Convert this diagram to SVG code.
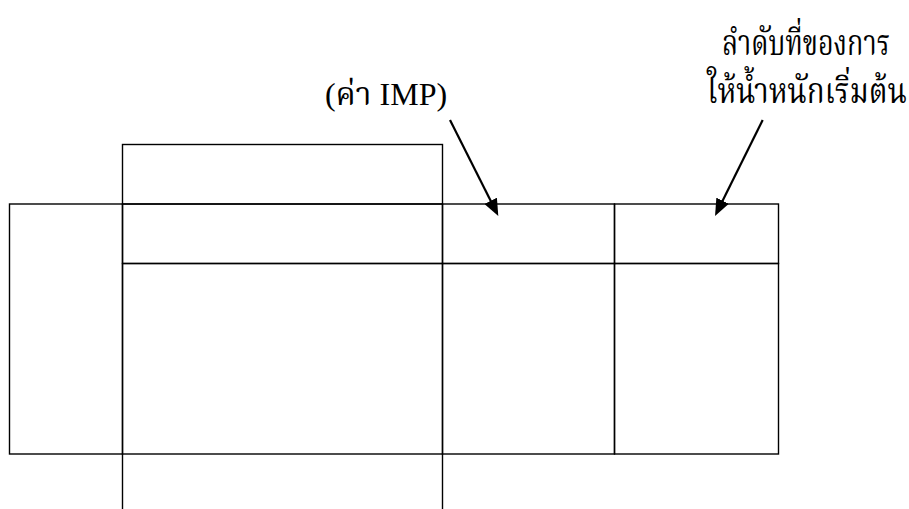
<svg xmlns="http://www.w3.org/2000/svg" width="909" height="509" viewBox="0 0 909 509">
  <style>
    .cell { fill: none; stroke: #000; stroke-width: 1.4; }
    .arrow { stroke: #000; stroke-width: 2.2; fill: none; }
    .label { font-family: "Liberation Serif", "Noto Serif Thai", "Noto Sans Thai", "DejaVu Serif", serif; font-size: 32px; fill: #000; text-anchor: middle; }
    .thai { font-size: 35px; }
  </style>
  <defs>
    <marker id="head" markerUnits="userSpaceOnUse" viewBox="0 0 17 14" markerWidth="17" markerHeight="14" refX="7" refY="7" orient="auto">
      <path d="M0,0 L17,7 L0,14 z" fill="#000"/>
    </marker>
  </defs>

  <!-- table cells -->
  <g id="cell-top"><rect class="cell" x="122.5" y="144.5" width="320" height="59.5"/></g>
  <g id="cell-left"><rect class="cell" x="9.5" y="204" width="113" height="250"/></g>
  <g id="cell-head-main"><rect class="cell" x="122.5" y="204" width="320" height="59.5"/></g>
  <g id="cell-head-imp"><rect class="cell" x="442.5" y="204" width="172" height="59.5"/></g>
  <g id="cell-head-order"><rect class="cell" x="614.5" y="204" width="164" height="59.5"/></g>
  <g id="cell-body-main"><rect class="cell" x="122.5" y="263.5" width="320" height="190.5"/></g>
  <g id="cell-body-imp"><rect class="cell" x="442.5" y="263.5" width="172" height="190.5"/></g>
  <g id="cell-body-order"><rect class="cell" x="614.5" y="263.5" width="164" height="190.5"/></g>
  <g id="cell-bottom"><path class="cell" d="M122.5,454 V510 M442.5,454 V510"/></g>

  <!-- labels -->
  <g id="label-imp">
    <text class="label" x="386" y="105">(ค่า IMP)</text>
  </g>
  <g id="label-order">
    <text class="label thai" x="806" y="55" textLength="168" lengthAdjust="spacingAndGlyphs">ลำดับที่ของการ</text>
    <text class="label thai" x="807" y="103" textLength="200" lengthAdjust="spacingAndGlyphs">ให้น้ำหนักเริ่มต้น</text>
  </g>

  <!-- connectors -->
  <g id="connectors">
    <line class="arrow" x1="450" y1="120" x2="493.8" y2="207.1" marker-end="url(#head)"/>
    <line class="arrow" x1="762.7" y1="120" x2="719.5" y2="207" marker-end="url(#head)"/>
  </g>
</svg>
